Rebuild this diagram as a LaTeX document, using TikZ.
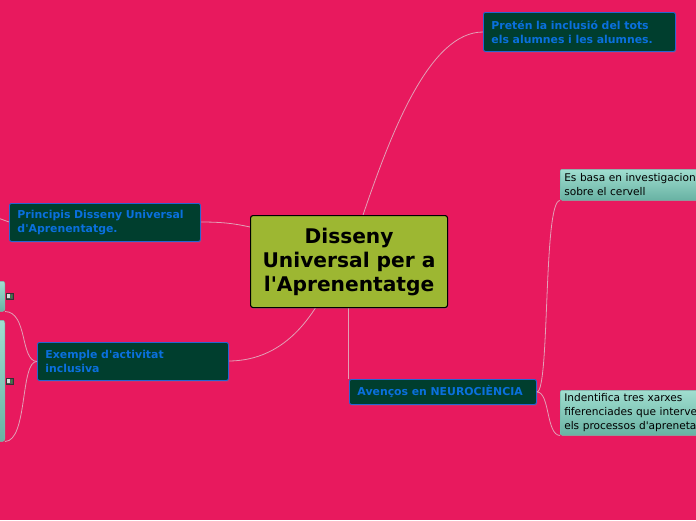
\documentclass[tikz,border=0pt]{standalone}
\usepackage{fontspec}
\setmainfont{DejaVu Sans}
\usetikzlibrary{shadows}
\definecolor{bg}{RGB}{232,25,94}
\definecolor{olive}{RGB}{157,183,50}
\definecolor{dkgreen}{RGB}{0,62,46}
\definecolor{blueborder}{RGB}{40,100,210}
\definecolor{bluetext}{RGB}{10,112,222}
\definecolor{tealtop}{RGB}{160,222,208}
\definecolor{tealbot}{RGB}{104,178,163}
\definecolor{tealborder}{RGB}{120,190,175}
\definecolor{linkc}{RGB}{226,160,182}
\definecolor{icongray}{RGB}{85,85,85}
\definecolor{icongreen}{RGB}{40,150,60}
\newcommand{\aq}{\textquotesingle}
\begin{document}
\begin{tikzpicture}[x=1pt,y=-1pt,
  darkbox/.style={draw=blueborder, line width=0.9pt, fill=dkgreen, rounded corners=2pt,
    text=bluetext, font=\fontsize{10.9}{14}\selectfont\bfseries, align=left,
    anchor=north west, inner xsep=8pt, inner ysep=0pt,
    drop shadow={shadow xshift=0.8pt, shadow yshift=-1.2pt, opacity=0.35}},
  centerbox/.style={draw=black, line width=1.1pt, fill=olive, rounded corners=2.5pt,
    text=black, font=\fontsize{20.2}{24}\selectfont\bfseries, align=center,
    anchor=north west, inner sep=0pt,
    drop shadow={shadow xshift=0.8pt, shadow yshift=-1.2pt, opacity=0.3}},
  tealbox/.style={draw=tealborder, line width=0.5pt, top color=tealtop, bottom color=tealbot,
    rounded corners=2pt, text=black, font=\fontsize{10.6}{14}\selectfont, align=left,
    anchor=north west, inner xsep=4pt, inner ysep=0pt},
  link/.style={draw=linkc, line width=0.8pt},
  iconbox/.style={draw=icongray!60!black, fill=icongray, line width=0.4pt,
    minimum width=7pt, minimum height=6pt, inner sep=0pt}
]
\clip (0,0) rectangle (696,520);
\fill[bg] (0,0) rectangle (696,520);

\coordinate (ctop) at (363,215);
\coordinate (cleft) at (250,227);
\coordinate (cbl) at (316,307);
\coordinate (cbm) at (348,307);
\coordinate (neurotop) at (348,379);
\coordinate (edgeL) at (-2,218);

% links (drawn first, nodes on top)
\draw[link] (ctop) .. controls (392,130) and (430,32) .. (483,32);
\draw[link] (cleft) .. controls (232,223) and (220,222) .. (200,222);
\draw[link] (9,222) -- (edgeL);
\draw[link] (cbl) .. controls (292,345) and (262,361) .. (228,361);
\draw[link] (cbm) -- (neurotop);

% nodes
\node[centerbox, minimum width=197pt, minimum height=92pt] (c) at (250,215)
  {Disseny\\Universal per a\\l\aq Aprenentatge};

\node[darkbox, minimum width=192pt, minimum height=39pt, text width=176pt] (top) at (483,12)
  {Pretén la inclusió del tots\\els alumnes i les alumnes.};

\node[darkbox, minimum width=191pt, minimum height=38pt, text width=175pt] (princ) at (9,203)
  {Principis Disseny Universal\\d\aq Aprenentatge.};

\node[darkbox, minimum width=191pt, minimum height=38pt, text width=175pt] (exem) at (37,342)
  {Exemple d\aq activitat\\inclusiva};

\node[darkbox, minimum width=187pt, minimum height=25pt, text width=171pt] (neuro) at (349,379)
  {Avenços en NEUROCIÈNCIA};

\node[tealbox, minimum width=160pt, minimum height=31pt, text width=200pt] (t1) at (560,169)
  {Es basa en investigacions\\sobre el cervell};

\node[tealbox, minimum width=160pt, minimum height=45pt, text width=200pt] (t2) at (560,390)
  {Indentifica tres xarxes\\fiferenciades que intervenen en\\els processos d\aq aprenetatge};

\node[tealbox, anchor=north east, minimum width=20pt, minimum height=30pt, text width=10pt] (l1) at (5,281) {};
\node[tealbox, anchor=north east, minimum width=20pt, minimum height=121pt, text width=10pt] (l2) at (5,320) {};

% icons
\node[iconbox] (i1) at (9.5,296) {};
\fill[gray!30] (7,294.2) rectangle (10.2,298);
\fill[icongreen] (10.8,294.5) rectangle (12.3,297.5);
\node[iconbox] (i2) at (9.5,381) {};
\fill[gray!30] (7,379.2) rectangle (10.2,383);
\fill[icongreen] (10.8,379.5) rectangle (12.3,382.5);

% links between nodes
\draw[link] (neuro.east) .. controls (550,392) and (543,200) .. (t1.south west);
\draw[link] (neuro.east) .. controls (550,392) and (546,435) .. (t2.south west);
\draw[link] (exem.west) .. controls (20,361) and (28,312) .. (l1.south east);
\draw[link] (exem.west) .. controls (20,361) and (28,441) .. (l2.south east);
\end{tikzpicture}
\end{document}
